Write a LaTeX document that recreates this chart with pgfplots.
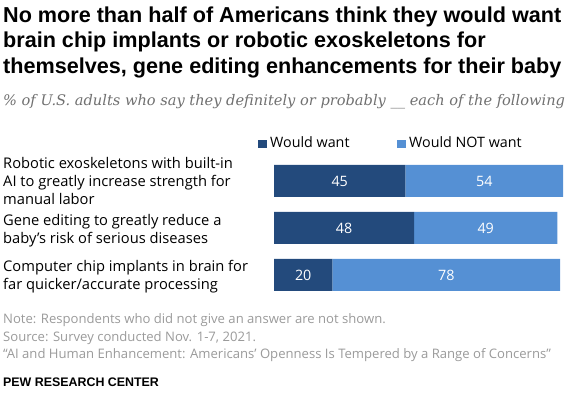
\documentclass[border=0pt]{standalone}
\usepackage{pgfplots}
\pgfplotsset{compat=1.18}
\usepackage{pgfplotstable}
\usepackage{fontspec}
\setmainfont{Open Sans}
\newfontfamily\titlefont{Liberation Sans}
\newfontfamily\subfont{DejaVu Serif}
\definecolor{darkb}{HTML}{234A7C}
\definecolor{lightb}{HTML}{5590D4}
\definecolor{subgray}{HTML}{707070}
\definecolor{notegray}{HTML}{9A9A9A}
\pgfplotstableread{
y want notwant
0 45 54
1 48 49
2 20 78
}\data
\newcommand{\TL}[2]{\node[anchor=base west,inner sep=0pt,font=\fontsize{21.6}{25}\selectfont\titlefont\bfseries] at (3pt,#1pt) {#2};}
\newcommand{\CL}[2]{\node[anchor=base west,inner sep=0pt,font=\fontsize{14.7}{18}\selectfont,text=black] at (3pt,#1pt) {#2};}
\newcommand{\NL}[2]{\node[anchor=base west,inner sep=0pt,font=\fontsize{13.1}{16}\selectfont,text=notegray] at (3pt,#1pt) {#2};}
\begin{document}
\begin{tikzpicture}
\path[use as bounding box] (0,0) rectangle (572pt,401pt);
% title
\TL{378}{No more than half of Americans think they would want}
\TL{353}{brain chip implants or robotic exoskeletons for}
\TL{327}{themselves, gene editing enhancements for their baby}
\node[anchor=base west,inner sep=0pt,font=\fontsize{14.6}{16}\selectfont\subfont\itshape,text=subgray] at (3pt,295pt) {\% of U.S. adults who say they definitely or probably \_\_\ each of the following};
% legend
\fill[darkb] (258pt,253pt) rectangle (267pt,261pt);
\node[anchor=base west,inner sep=0pt,font=\fontsize{14.3}{16}\selectfont] at (270pt,253pt) {Would want};
\fill[lightb] (397pt,253pt) rectangle (406pt,261pt);
\node[anchor=base west,inner sep=0pt,font=\fontsize{14.3}{16}\selectfont] at (409pt,253pt) {Would NOT want};
% categories
\CL{232}{Robotic exoskeletons with built-in}
\CL{214}{AI to greatly increase strength for}
\CL{196}{manual labor}
\CL{175}{Gene editing to greatly reduce a}
\CL{157}{baby's risk of serious diseases}
\CL{129}{Computer chip implants in brain for}
\CL{111}{far quicker/accurate processing}
% notes
\NL{77}{Note: Respondents who did not give an answer are not shown.}
\NL{59.5}{Source: Survey conducted Nov. 1-7, 2021.}
\NL{42}{“AI and Human Enhancement: Americans’ Openness Is Tempered by a Range of Concerns”}
\node[anchor=base west,inner sep=0pt,font=\fontsize{12.4}{16}\selectfont\titlefont\bfseries] at (3pt,14.5pt) {PEW RESEARCH CENTER};
% bars
\begin{axis}[at={(274pt,243.5pt)},anchor=north west,scale only axis,
  width=292pt,height=141pt,xmin=0,xmax=100,ymin=-0.5,ymax=2.5,y dir=reverse,
  xbar stacked,bar width=32pt,hide axis]
\addplot[fill=darkb,draw=none] table[x=want,y=y] \data;
\addplot[fill=lightb,draw=none] table[x=notwant,y=y] \data;
\end{axis}
\begin{axis}[at={(274pt,243.5pt)},anchor=north west,scale only axis,
  width=292pt,height=141pt,xmin=0,xmax=100,ymin=-0.5,ymax=2.5,y dir=reverse,
  hide axis,clip=false,
  nodes near coords,point meta=explicit symbolic,
  every node near coord/.style={anchor=center,inner sep=0pt,text=white,font=\fontsize{14.3}{16}\selectfont}]
\addplot[draw=none,mark=none] table[x expr=\thisrow{want}/2,y=y,meta=want] \data;
\addplot[draw=none,mark=none] table[x expr=\thisrow{want}+\thisrow{notwant}/2,y=y,meta=notwant] \data;
\end{axis}
\end{tikzpicture}
\end{document}
